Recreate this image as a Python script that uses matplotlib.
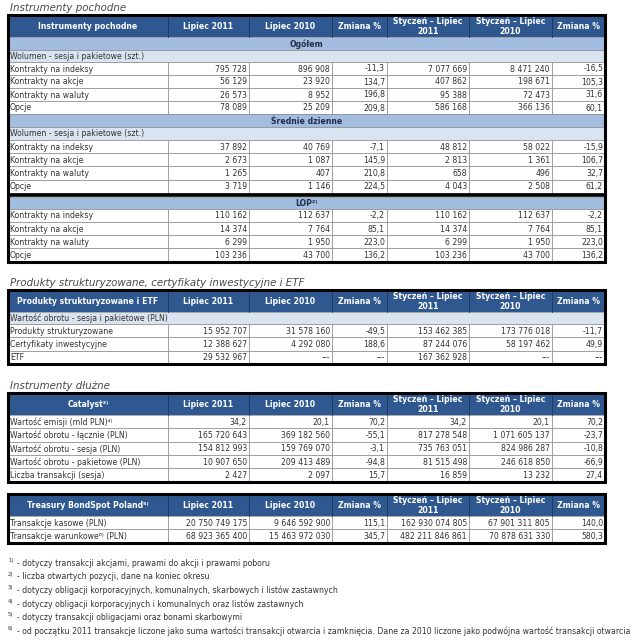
import matplotlib.pyplot as plt
from matplotlib.patches import Rectangle

plt.rcParams['font.family'] = ['DejaVu Sans']

# column headers shared by all tables
columns = ["Lipiec 2011", "Lipiec 2010", "Zmiana %",
           "Styczeń – Lipiec\n2011", "Styczeń – Lipiec\n2010", "Zmiana %"]

# --- Instrumenty pochodne ---
deriv_labels = ["Kontrakty na indeksy", "Kontrakty na akcje", "Kontrakty na waluty", "Opcje"]
ogolem = [["795 728", "896 908", "-11,3", "7 077 669", "8 471 240", "-16,5"],
          ["56 129", "23 920", "134,7", "407 862", "198 671", "105,3"],
          ["26 573", "8 952", "196,8", "95 388", "72 473", "31,6"],
          ["78 089", "25 209", "209,8", "586 168", "366 136", "60,1"]]
srednie = [["37 892", "40 769", "-7,1", "48 812", "58 022", "-15,9"],
           ["2 673", "1 087", "145,9", "2 813", "1 361", "106,7"],
           ["1 265", "407", "210,8", "658", "496", "32,7"],
           ["3 719", "1 146", "224,5", "4 043", "2 508", "61,2"]]
lop = [["110 162", "112 637", "-2,2", "110 162", "112 637", "-2,2"],
       ["14 374", "7 764", "85,1", "14 374", "7 764", "85,1"],
       ["6 299", "1 950", "223,0", "6 299", "1 950", "223,0"],
       ["103 236", "43 700", "136,2", "103 236", "43 700", "136,2"]]

# --- Produkty strukturyzowane ---
struct_labels = ["Produkty strukturyzowane", "Certyfikaty inwestycyjne", "ETF"]
struct_vals = [["15 952 707", "31 578 160", "-49,5", "153 462 385", "173 776 018", "-11,7"],
               ["12 388 627", "4 292 080", "188,6", "87 244 076", "58 197 462", "49,9"],
               ["29 532 967", "---", "---", "167 362 928", "---", "---"]]

# --- Catalyst ---
cat_labels = ["Wartość emisji (mld PLN)⁴⁾", "Wartość obrotu - łącznie (PLN)",
              "Wartość obrotu - sesja (PLN)", "Wartość obrotu - pakietowe (PLN)",
              "Liczba transakcji (sesja)"]
cat_vals = [["34,2", "20,1", "70,2", "34,2", "20,1", "70,2"],
            ["165 720 643", "369 182 560", "-55,1", "817 278 548", "1 071 605 137", "-23,7"],
            ["154 812 993", "159 769 070", "-3,1", "735 763 051", "824 986 287", "-10,8"],
            ["10 907 650", "209 413 489", "-94,8", "81 515 498", "246 618 850", "-66,9"],
            ["2 427", "2 097", "15,7", "16 859", "13 232", "27,4"]]

# --- Treasury BondSpot ---
tbs_labels = ["Transakcje kasowe (PLN)", "Transakcje warunkowe⁶⁾ (PLN)"]
tbs_vals = [["20 750 749 175", "9 646 592 900", "115,1", "162 930 074 805", "67 901 311 805", "140,0"],
            ["68 923 365 400", "15 463 972 030", "345,7", "482 211 846 861", "70 878 631 330", "580,3"]]

footnotes = [("1)", "- dotyczy transakcji akcjami, prawami do akcji i prawami poboru"),
             ("2)", "- liczba otwartych pozycji, dane na koniec okresu"),
             ("3)", "- dotyczy obligacji korporacyjnych, komunalnych, skarbowych i listów zastawnych"),
             ("4)", "- dotyczy obligacji korporacyjnych i komunalnych oraz listów zastawnych"),
             ("5)", "- dotyczy transakcji obligacjami oraz bonami skarbowymi"),
             ("6)", "- od początku 2011 transakcje liczone jako suma wartości transakcji otwarcia i zamknięcia. "
                    "Dane za 2010 liczone jako podwójna wartość transakcji otwarcia")]

HEAD = '#2f5890'
BAND = '#a3bde0'
SUB = '#dae4f1'
GRID = '#8a8a8a'
TXT = '#333333'
FS = 5.6

xs = [8, 168, 249, 332, 387, 469, 552, 605]

fig = plt.figure(figsize=(6.4, 6.4), dpi=100)
ax = fig.add_axes([0, 0, 1, 1])
ax.set_xlim(0, 640)
ax.set_ylim(640, 0)
ax.axis('off')


def rect(x0, y0, w, h, fc, ec='none', lw=0.5, z=1):
    ax.add_patch(Rectangle((x0, y0), w, h, facecolor=fc, edgecolor=ec, lw=lw, zorder=z))


def draw_table(top, first, rows):
    y = top
    # header
    h = 22
    rect(xs[0], y, xs[-1] - xs[0], h, HEAD)
    for i, lab in enumerate([first] + columns):
        ax.text((xs[i] + xs[i + 1]) / 2, y + h / 2 + 0.5, lab, color='white', fontweight='bold',
                fontsize=FS, ha='center', va='center', linespacing=1.05, zorder=3)
        if i > 0:
            ax.plot([xs[i], xs[i]], [y, y + h], color='#1d3558', lw=0.6, zorder=2)
    y += h
    for kind, hh, content in rows:
        if kind == 'sep':
            ax.plot([xs[0], xs[-1]], [y + hh / 2, y + hh / 2], color='black', lw=hh / 1.39 * 0.9,
                    zorder=4, solid_capstyle='butt')
        elif kind == 'band':
            rect(xs[0], y, xs[-1] - xs[0], hh, BAND, GRID)
            ax.text((xs[0] + xs[-1]) / 2, y + hh / 2 + 0.5, content, color='#1f2f4a', fontweight='bold',
                    fontsize=FS, ha='center', va='center', zorder=3)
        elif kind == 'sub':
            rect(xs[0], y, xs[-1] - xs[0], hh, SUB, GRID)
            ax.text(xs[0] + 2, y + hh / 2 + 0.5, content, color=TXT, fontsize=FS,
                    ha='left', va='center', zorder=3)
        else:
            lab, vals = content
            for i in range(7):
                rect(xs[i], y, xs[i + 1] - xs[i], hh, 'white', GRID)
            ax.text(xs[0] + 2, y + hh / 2 + 0.5, lab, color=TXT, fontsize=FS,
                    ha='left', va='center', zorder=3)
            for i, v in enumerate(vals):
                ax.text(xs[i + 2] - 2, y + hh / 2 + 0.5, v, color=TXT, fontsize=FS,
                        ha='right', va='center', zorder=3)
        y += hh
    # outer frame
    rect(xs[0], top, xs[-1] - xs[0], y - top, 'none', 'black', lw=2.2, z=5)
    return y


def section_title(y, s):
    ax.text(10, y, s, fontsize=7.4, style='italic', color='#4a4a4a', ha='left', va='center')


section_title(8, "Instrumenty pochodne")
rows1 = [('band', 13, "Ogółem"), ('sub', 12, "Wolumen - sesja i pakietowe (szt.)")]
rows1 += [('data', 13, (l, v)) for l, v in zip(deriv_labels, ogolem)]
rows1 += [('band', 13, "Średnie dzienne"), ('sub', 13, "Wolumen - sesja i pakietowe (szt.)")]
rows1 += [('data', 13.2, (l, v)) for l, v in zip(deriv_labels, srednie)]
rows1 += [('sep', 4, None), ('band', 12, "LOP²⁾")]
rows1 += [('data', 13.2, (l, v)) for l, v in zip(deriv_labels, lop)]
draw_table(15, "Instrumenty pochodne", rows1)

section_title(283, "Produkty strukturyzowane, certyfikaty inwestycyjne i ETF")
rows2 = [('sub', 12, "Wartość obrotu - sesja i pakietowe (PLN)")]
rows2 += [('data', 13.3, (l, v)) for l, v in zip(struct_labels, struct_vals)]
draw_table(290, "Produkty strukturyzowane i ETF", rows2)

section_title(386, "Instrumenty dłużne")
rows3 = [('data', 13.3, (l, v)) for l, v in zip(cat_labels, cat_vals)]
draw_table(393, "Catalyst³⁾", rows3)

rows4 = [('data', 13.3, (l, v)) for l, v in zip(tbs_labels, tbs_vals)]
draw_table(494, "Treasury BondSpot Poland⁵⁾", rows4)

for k, (sup, txt) in enumerate(footnotes):
    y = 563 + k * 13.6
    ax.text(8, y - 2.5, sup, fontsize=3.8, color=TXT, ha='left', va='center')
    ax.text(17, y, txt, fontsize=FS, color=TXT, ha='left', va='center')

plt.savefig('out.png', dpi=100)
